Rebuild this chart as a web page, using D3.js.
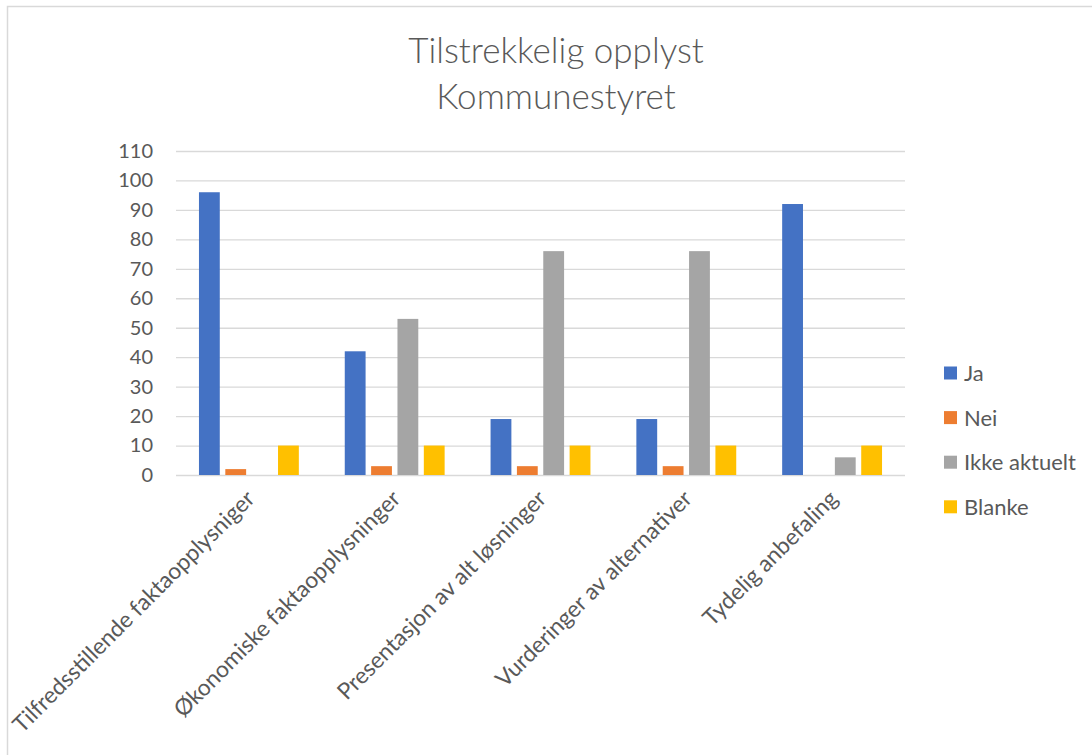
<!DOCTYPE html>
<html lang="no">
<head>
<meta charset="UTF-8">
<title>Tilstrekkelig opplyst Kommunestyret</title>
<script src="https://d3js.org/d3.v7.min.js"></script>
<style>
    body { margin: 0; background: #fff; }
    svg { display: block; font-family: Lato, "Open Sans", sans-serif; }
    .grid line { stroke: #d9d9d9; stroke-width: 1.3px; }
    .grid path { display: none; }
    .yaxis text, .xaxis text, .legend text { fill: #595959; }
</style>
</head>
<body>
<svg width="1092" height="755"></svg>
<script>
    // data
    const categories = ["Tilfredsstillende faktaopplysniger", "Økonomiske faktaopplysninger",
        "Presentasjon av alt løsninger", "Vurderinger av alternativer", "Tydelig anbefaling"];
    const seriesNames = ["Ja", "Nei", "Ikke aktuelt", "Blanke"];
    const ja = [96, 42, 19, 19, 92];
    const nei = [2, 3, 3, 3, 0];
    const ikkeAktuelt = [0, 53, 76, 76, 6];
    const blanke = [10, 10, 10, 10, 10];
    const yTicks = [0, 10, 20, 30, 40, 50, 60, 70, 80, 90, 100, 110];
    const colors = ["#4472C4", "#ED7D31", "#A5A5A5", "#FFC000"];

    const values = [ja, nei, ikkeAktuelt, blanke];

    let svg = d3.select("svg");

    // chart frame (runs past the right/bottom edge of the page)
    svg.append("rect").attr("x", 7.5).attr("y", 6.5).attr("width", 1300).attr("height", 1000)
        .attr("fill", "#fff").attr("stroke", "#d9d9d9").attr("stroke-width", 1.5);

    // title
    let title = svg.append("text").attr("text-anchor", "middle").attr("fill", "#595959")
        .style("font-size", "35px").style("font-weight", 300);
    title.append("tspan").attr("x", 556).attr("y", 63).text("Tilstrekkelig opplyst");
    title.append("tspan").attr("x", 556).attr("y", 109).text("Kommunestyret");

    let plot = {left: 176, right: 905, top: 151, bottom: 475};

    let x0 = d3.scaleBand().domain(categories).range([plot.left, plot.right])
        .paddingInner(0.315).paddingOuter(0.1575);
    let x1 = d3.scaleBand().domain(seriesNames).range([0, x0.bandwidth()]).paddingInner(0.21);
    let y = d3.scaleLinear().domain([0, 110]).range([plot.bottom, plot.top]);

    // gridlines
    svg.append("g").attr("class", "grid")
        .attr("transform", "translate(" + plot.left + ",0)")
        .call(d3.axisLeft(y).tickValues(yTicks).tickSize(-(plot.right - plot.left)).tickFormat(""));

    // y labels
    let yAxis = svg.append("g").attr("class", "yaxis")
        .attr("transform", "translate(" + plot.left + ",0)")
        .call(d3.axisLeft(y).tickValues(yTicks).tickSize(0).tickPadding(23));
    yAxis.select(".domain").remove();
    yAxis.selectAll("text").style("font-size", "20px").style("font-family", "Lato, sans-serif");

    // bars
    let groups = svg.append("g").selectAll("g").data(categories).join("g")
        .attr("transform", d => "translate(" + x0(d) + ",0)");
    groups.selectAll("rect")
        .data((d, i) => seriesNames.map((s, j) => ({s: s, v: values[j][i], c: colors[j]})))
        .join("rect")
        .attr("x", d => x1(d.s))
        .attr("width", x1.bandwidth())
        .attr("y", d => y(d.v))
        .attr("height", d => y(0) - y(d.v))
        .attr("fill", d => d.c);

    // x labels, rotated
    let xAxis = svg.append("g").attr("class", "xaxis")
        .attr("transform", "translate(0," + plot.bottom + ")")
        .call(d3.axisBottom(x0).tickSize(0));
    xAxis.select(".domain").remove();
    xAxis.selectAll("text")
        .style("font-size", "22.8px").style("font-family", "Lato, sans-serif")
        .attr("text-anchor", "end")
        .attr("dy", "0")
        .attr("transform", "translate(5,23) rotate(-45)");

    // legend
    let legend = svg.append("g").attr("class", "legend")
        .attr("transform", "translate(944,373)");
    let items = legend.selectAll("g").data(seriesNames).join("g")
        .attr("transform", (d, i) => "translate(0," + (i * 44.6) + ")");
    items.append("rect").attr("x", 0).attr("y", -6.5).attr("width", 13).attr("height", 13)
        .attr("fill", (d, i) => colors[i]);
    items.append("text").attr("x", 20).attr("y", 0).attr("dy", "0.36em")
        .style("font-size", "22px").text(d => d);
</script>
</body>
</html>
